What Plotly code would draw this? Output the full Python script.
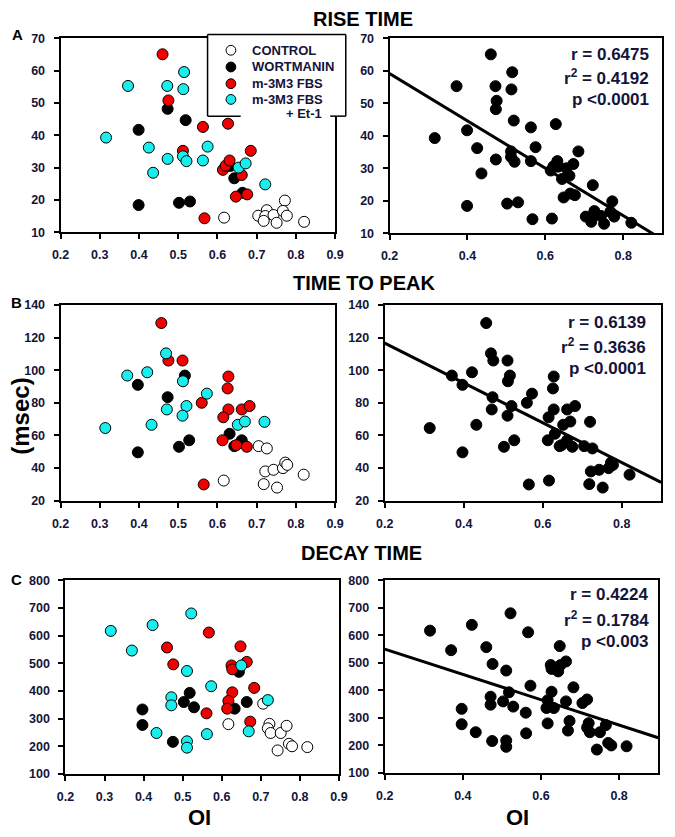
import plotly.graph_objects as go

W, H = 675, 837

# ---------------- data ----------------
group_names = ["CONTROL", "WORTMANIN", "m-3M3 FBS", "m-3M3 FBS"]
group_name_extra = "+ Et-1"
group_fill = ["#ffffff", "#000000", "#f00000", "#18eeee"]

# Panel A : rise time (msec) vs OI
rise_ctrl_oi = [0.617, 0.772, 0.704, 0.726, 0.722, 0.718, 0.743, 0.751, 0.767, 0.777, 0.821]
rise_ctrl = [14.5, 19.8, 15.1, 16.8, 15.0, 13.5, 15.3, 12.9, 16.6, 15.1, 13.2]
rise_wort_oi = [0.473, 0.519, 0.399, 0.399, 0.502, 0.530, 0.643, 0.633, 0.664]
rise_wort = [48.2, 44.7, 41.7, 18.4, 19.1, 19.5, 26.7, 30.5, 22.2]
rise_fbs_oi = [0.460, 0.475, 0.563, 0.627, 0.512, 0.685, 0.614, 0.621, 0.631, 0.662, 0.647, 0.676, 0.567]
rise_fbs = [65.1, 50.8, 42.6, 43.6, 35.2, 35.2, 29.3, 30.6, 32.2, 27.7, 21.0, 21.7, 14.3]
rise_et_oi = [0.515, 0.372, 0.472, 0.513, 0.316, 0.425, 0.575, 0.473, 0.512, 0.521, 0.563, 0.436, 0.654, 0.672, 0.722]
rise_et = [59.6, 55.3, 55.3, 54.3, 39.3, 36.2, 36.5, 32.7, 33.5, 32.0, 32.2, 28.4, 30.0, 31.3, 24.8]

# Panel B : time to peak (msec) vs OI
peak_ctrl_oi = [0.616, 0.705, 0.726, 0.722, 0.743, 0.718, 0.752, 0.767, 0.773, 0.778, 0.820]
peak_ctrl = [32.3, 53.4, 52.0, 37.9, 38.9, 30.1, 28.0, 39.9, 43.3, 41.9, 35.9]
peak_wort_oi = [0.397, 0.473, 0.517, 0.397, 0.502, 0.528, 0.631, 0.643, 0.662]
peak_wort = [91.0, 83.4, 96.7, 49.6, 53.0, 57.0, 61.0, 53.4, 57.0]
peak_fbs_oi = [0.457, 0.475, 0.511, 0.628, 0.626, 0.560, 0.628, 0.662, 0.682, 0.615, 0.613, 0.648, 0.675, 0.565]
peak_fbs = [128.9, 105.9, 105.9, 96.1, 88.8, 80.0, 75.9, 75.9, 78.0, 71.1, 57.0, 54.0, 53.0, 29.9]
peak_et_oi = [0.469, 0.370, 0.421, 0.512, 0.573, 0.521, 0.471, 0.511, 0.432, 0.314, 0.652, 0.670, 0.720]
peak_et = [110.3, 96.7, 98.7, 93.2, 85.6, 78.0, 75.9, 72.1, 66.5, 64.5, 66.5, 68.5, 68.3]

# Panel C : decay time (msec) vs OI
decay_ctrl_oi = [0.617, 0.706, 0.722, 0.718, 0.725, 0.751, 0.766, 0.743, 0.772, 0.780, 0.819]
decay_ctrl = [280, 354, 281, 265, 248, 248, 274, 185, 209, 200, 197]
decay_wort_oi = [0.397, 0.397, 0.475, 0.503, 0.518, 0.529, 0.633, 0.664, 0.644]
decay_wort = [333, 277, 216, 360, 393, 341, 336, 360, 469]
decay_fbs_oi = [0.460, 0.567, 0.648, 0.476, 0.625, 0.627, 0.664, 0.627, 0.617, 0.614, 0.561, 0.683, 0.673]
decay_fbs = [557, 611, 561, 496, 492, 478, 505, 395, 364, 336, 319, 411, 289]
decay_et_oi = [0.316, 0.423, 0.522, 0.370, 0.511, 0.573, 0.650, 0.471, 0.471, 0.718, 0.433, 0.562, 0.669, 0.511, 0.511]
decay_et = [617, 638, 680, 546, 472, 417, 492, 377, 348, 367, 248, 244, 254, 218, 195]

# regression lines (intercept, slope)
fit_rise = (73.8, -73.0)
fit_peak = (141.0, -122.0)
fit_decay = (642.0, -460.0)

stats_rise = ["r = 0.6475", "r<sup>2</sup> = 0.4192", "p <0.0001"]
stats_peak = ["r = 0.6139", "r<sup>2</sup> = 0.3636", "p <0.0001"]
stats_decay = ["r = 0.4224", "r<sup>2</sup> = 0.1784", "p <0.003"]

panel_titles = ["RISE TIME", "TIME TO PEAK", "DECAY TIME"]
panel_letters = ["A", "B", "C"]
y_ranges = [(10, 70, 10), (20, 140, 20), (100, 800, 100)]
left_ticks = [0.2, 0.3, 0.4, 0.5, 0.6, 0.7, 0.8, 0.9]
right_ticks = [0.2, 0.4, 0.6, 0.8]
fit_x = [0.2, 0.9]

# ---------------- layout helpers ----------------
FONT = "Liberation Sans, Arial, Helvetica, sans-serif"
TXT = "#14143a"


def px_x(p):
    return p / W


def px_y(p):
    return 1 - p / H


# pixel boxes (left, right, top, bottom)
boxes_left = [(53, 335, 32, 229), (53, 335, 303, 502), (58, 339, 583, 780)]
boxes_right = [(391, 671, 32, 230), (386, 670, 303, 502), (386, 667, 583, 779)]

fig = go.Figure()

panels = [
    ([(rise_ctrl_oi, rise_ctrl), (rise_wort_oi, rise_wort), (rise_fbs_oi, rise_fbs), (rise_et_oi, rise_et)], fit_rise, stats_rise),
    ([(peak_ctrl_oi, peak_ctrl), (peak_wort_oi, peak_wort), (peak_fbs_oi, peak_fbs), (peak_et_oi, peak_et)], fit_peak, stats_peak),
    ([(decay_ctrl_oi, decay_ctrl), (decay_wort_oi, decay_wort), (decay_fbs_oi, decay_fbs), (decay_et_oi, decay_et)], fit_decay, stats_decay),
]

layout_axes = {}
annotations = []
shapes = []
stat_pos = [(660, [48, 71, 94]), (657, [321, 345, 368]), (660, [598, 622, 645])]
title_pos = [(364, 12), (365, 281), (362, 555)]
letter_pos = [(9, 28), (8, 301), (8, 582)]

for i, (groups, fit, stats) in enumerate(panels):
    li = 2 * i + 1
    ri = 2 * i + 2
    xl = "x" if li == 1 else f"x{li}"
    yl = "y" if li == 1 else f"y{li}"
    xr, yr = f"x{ri}", f"y{ri}"

    for g, (ox, oy) in enumerate(groups):
        fig.add_trace(go.Scatter(
            x=ox, y=oy, mode="markers", xaxis=xl, yaxis=yl,
            name=group_names[g], showlegend=False,
            marker=dict(size=11, color=group_fill[g], line=dict(color="#000000", width=1)),
        ))
    all_x = [v for ox, _ in groups for v in ox]
    all_y = [v for _, oy in groups for v in oy]
    fig.add_trace(go.Scatter(
        x=all_x, y=all_y, mode="markers", xaxis=xr, yaxis=yr, showlegend=False,
        marker=dict(size=11, color="#000000", line=dict(color="#000000", width=1)),
    ))
    b0, b1 = fit
    fig.add_trace(go.Scatter(
        x=fit_x, y=[b0 + b1 * v for v in fit_x], mode="lines", xaxis=xr, yaxis=yr,
        showlegend=False, line=dict(color="#000000", width=3),
    ))

    y0, y1, dy = y_ranges[i]
    common = dict(showline=True, linewidth=2, linecolor="#000000", mirror=True,
                  ticks="outside", ticklen=5, tickwidth=2, tickcolor="#000000",
                  showgrid=False, zeroline=False,
                  tickfont=dict(family=FONT, size=12.5, color=TXT, weight="bold"))
    for (box, xa, ya, ticks, anchor_y, anchor_x) in [
        (boxes_left[i], f"xaxis{li if li > 1 else ''}", f"yaxis{li if li > 1 else ''}", left_ticks, yl, xl),
        (boxes_right[i], f"xaxis{ri}", f"yaxis{ri}", right_ticks, yr, xr),
    ]:
        L, R, T, B = box
        layout_axes[xa] = dict(domain=[px_x(L), px_x(R)], range=[0.2, 0.9], anchor=anchor_y,
                               tickvals=ticks, ticktext=[f"{t:.1f}" for t in ticks],
                               ticklabelstandoff=5, **common)
        layout_axes[ya] = dict(domain=[px_y(B), px_y(T)], range=[y0, y1], anchor=anchor_x,
                               tickmode="linear", tick0=y0, dtick=dy,
                               ticklabelstandoff=6, **common)

    sx, sys_ = stat_pos[i]
    for s, yy in zip(stats, sys_):
        annotations.append(dict(x=px_x(sx), y=px_y(yy), xref="paper", yref="paper",
                                text=s, showarrow=False, xanchor="right", yanchor="middle",
                                font=dict(family=FONT, size=17, color=TXT, weight="bold")))
    tx, ty = title_pos[i]
    annotations.append(dict(x=px_x(tx), y=px_y(ty), xref="paper", yref="paper",
                            text=panel_titles[i], showarrow=False, xanchor="center", yanchor="middle",
                            font=dict(family=FONT, size=20, color="#000000", weight="bold")))
    lx, ly = letter_pos[i]
    annotations.append(dict(x=px_x(lx), y=px_y(ly), xref="paper", yref="paper",
                            text=panel_letters[i], showarrow=False, xanchor="center", yanchor="middle",
                            font=dict(family=FONT, size=15, color="#000000", weight="bold")))

annotations.append(dict(x=px_x(11), y=px_y(416), xref="paper", yref="paper", text="(msec)",
                        textangle=-90, showarrow=False, xanchor="center", yanchor="middle",
                        font=dict(family=FONT, size=24, color="#000000", weight="bold")))
for ox in (196, 522):
    annotations.append(dict(x=px_x(ox), y=px_y(824), xref="paper", yref="paper", text="OI",
                            showarrow=False, xanchor="center", yanchor="middle",
                            font=dict(family=FONT, size=22, color="#000000", weight="bold")))

# ---------------- legend box (drawn as layout decoration) ----------------
LG_L, LG_R, LG_T, LG_B = 204, 346, 28, 111
shapes.append(dict(type="rect", xref="paper", yref="paper", layer="above",
                   x0=px_x(LG_L), x1=px_x(LG_R), y0=px_y(LG_B), y1=px_y(LG_T),
                   fillcolor="#ffffff", line=dict(width=0)))
for (xa_, ya_, xb_, yb_) in [(LG_L, LG_T, LG_R, LG_T), (LG_L, LG_T, LG_L, LG_B), (LG_R, LG_T, LG_R, LG_B),
                             (LG_L, LG_B, 238, LG_B), (330, LG_B, LG_R, LG_B)]:
    shapes.append(dict(type="line", xref="paper", yref="paper", layer="above",
                       x0=px_x(xa_), y0=px_y(ya_), x1=px_x(xb_), y1=px_y(yb_),
                       line=dict(color="#000000", width=1.5)))
legend_rows = [44, 61, 78, 94]
for g, yy in enumerate(legend_rows):
    shapes.append(dict(type="circle", xref="paper", yref="paper", layer="above",
                       x0=px_x(223), x1=px_x(233), y0=px_y(yy + 5), y1=px_y(yy - 5),
                       fillcolor=group_fill[g], line=dict(color="#000000", width=1)))
    annotations.append(dict(x=px_x(248), y=px_y(yy), xref="paper", yref="paper",
                            text=group_names[g], showarrow=False, xanchor="left", yanchor="middle",
                            font=dict(family=FONT, size=13, color=TXT, weight="bold")))
annotations.append(dict(x=px_x(283), y=px_y(108), xref="paper", yref="paper",
                        text=group_name_extra, showarrow=False, xanchor="left", yanchor="middle",
                        font=dict(family=FONT, size=13, color=TXT, weight="bold")))

fig.update_layout(
    width=W, height=H, margin=dict(l=0, r=0, t=0, b=0),
    paper_bgcolor="#ffffff", plot_bgcolor="#ffffff",
    annotations=annotations, shapes=shapes, showlegend=False,
    **layout_axes,
)

fig.write_html("out.html", config={"displayModeBar": False},
               post_script="document.body.style.margin='0';document.body.style.overflow='hidden';")
